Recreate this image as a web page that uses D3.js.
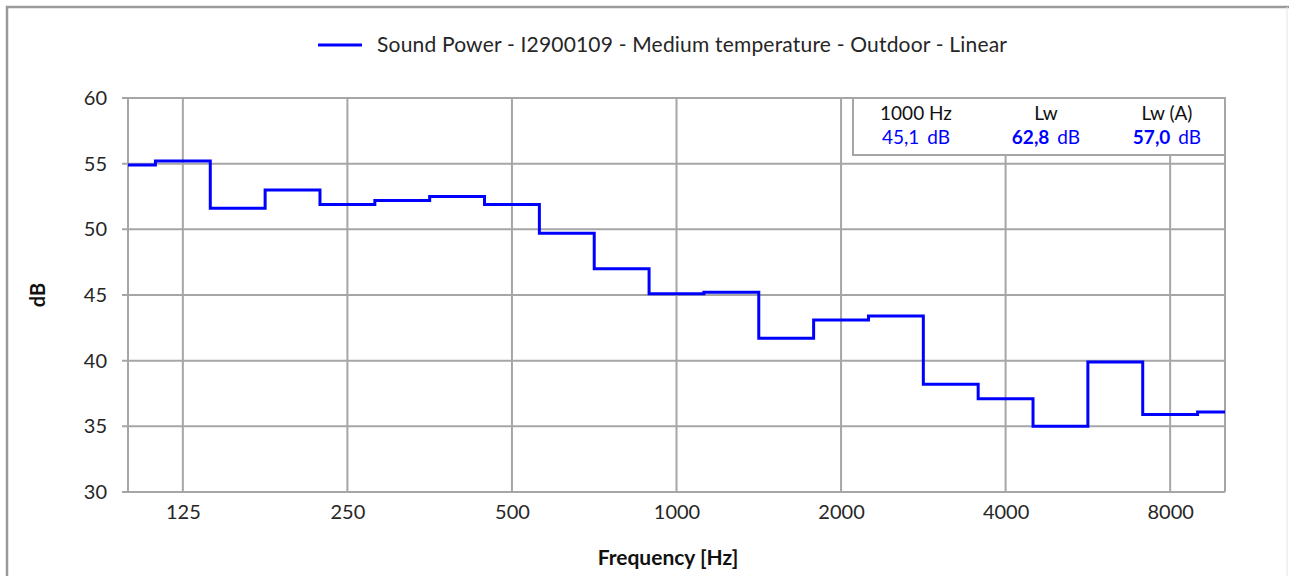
<!DOCTYPE html>
<html lang="en">
  <head>
    <meta charset="utf-8" />
    <title>Sound Power spectrum</title>
    <script src="https://d3js.org/d3.v7.js"></script>
    <style>
      body { margin: 0; background: #fff; }
      text { font-family: Lato, "Open Sans", sans-serif; }
    </style>
  </head>
  <body>
    <div id="graph"></div>
    <script>

    // third octave bands (Hz) and sound power level per band (dB)
    var bands = ["100", "125", "160", "200", "250", "315", "400", "500", "630", "800",
                 "1000", "1250", "1600", "2000", "2500", "3150", "4000", "5000", "6300", "8000", "10000"];
    var levels = [54.9, 55.2, 51.6, 53.0, 51.9, 52.2, 52.5, 51.9, 49.7, 47.0,
                  45.1, 45.2, 41.7, 43.1, 43.4, 38.2, 37.1, 35.0, 39.9, 35.9, 36.1];
    var xTicks = ["125", "250", "500", "1000", "2000", "4000", "8000"];
    var yTicks = [30, 35, 40, 45, 50, 55, 60];
    var seriesName = "Sound Power - I2900109 - Medium temperature - Outdoor - Linear";
    var infoHeads = ["1000 Hz", "Lw", "Lw (A)"];
    var infoValues = ["45,1", "62,8", "57,0"];

    var w = 1289, h = 576;
    var blue = "#0000ff", grid = "#a6a6a6";

    var svg = d3.select("#graph")
      .append("svg")
        .attr("width", w)
        .attr("height", h);

    // outer frame
    svg.append("path")
      .attr("d", "M7,576 V7 H1289")
      .attr("fill", "none")
      .attr("stroke", "#9a9a9a")
      .attr("stroke-width", 2.5);
    svg.append("line")
      .attr("x1", 1287).attr("x2", 1287).attr("y1", 7).attr("y2", 576)
      .attr("stroke", "#e4e4e4").attr("stroke-width", 1);

    // scales
    var x = d3.scalePoint()
      .domain(bands)
      .range([128, 1225]);
    var y = d3.scaleLinear()
      .domain([30, 60])
      .range([492, 98]);
    var half = x.step() / 2;

    // gridlines
    svg.append("g")
      .selectAll("line")
      .data(yTicks)
      .join("line")
        .attr("x1", 122).attr("x2", 1225)
        .attr("y1", d => y(d)).attr("y2", d => y(d))
        .attr("stroke", grid).attr("stroke-width", 2);

    svg.append("g")
      .selectAll("line")
      .data(xTicks.concat(["100", "10000"]))
      .join("line")
        .attr("x1", d => x(d)).attr("x2", d => x(d))
        .attr("y1", y(60)).attr("y2", y(30))
        .attr("stroke", grid).attr("stroke-width", 2);

    // axes (labels only, lines drawn as grid)
    var xAxis = svg.append("g")
      .attr("transform", `translate(0,${y(30)})`)
      .call(d3.axisBottom(x).tickValues(xTicks).tickSize(0).tickPadding(13));
    var yAxis = svg.append("g")
      .attr("transform", "translate(128,0)")
      .call(d3.axisLeft(y).tickValues(yTicks).tickSize(0).tickPadding(21));
    [xAxis, yAxis].forEach(function (a) {
      a.select(".domain").remove();
      a.selectAll("text")
        .attr("font-family", "Lato, 'Open Sans', sans-serif")
        .attr("font-size", 20)
        .attr("fill", "#262626");
    });

    // step line
    var pts = [];
    bands.forEach(function (b, i) {
      var x0 = i === 0 ? x(b) : x(b) - half;
      var x1 = i === bands.length - 1 ? x(b) : x(b) + half;
      pts.push([x0, y(levels[i])]);
      pts.push([x1, y(levels[i])]);
    });
    svg.append("path")
      .attr("d", d3.line()(pts))
      .attr("fill", "none")
      .attr("stroke", blue)
      .attr("stroke-width", 3);

    // info box
    var box = svg.append("g");
    box.append("rect")
      .attr("x", 853).attr("y", 98)
      .attr("width", 372).attr("height", 57)
      .attr("fill", "#fff")
      .attr("stroke", grid).attr("stroke-width", 2);
    var cols = [916, 1046, 1167];
    infoHeads.forEach(function (t, i) {
      box.append("text")
        .attr("x", cols[i]).attr("y", 120)
        .attr("text-anchor", "middle")
        .attr("font-size", 19)
        .attr("fill", "#111")
        .text(t);
      var v = box.append("text")
        .attr("x", cols[i]).attr("y", 144)
        .attr("text-anchor", "middle")
        .attr("font-size", 19)
        .attr("fill", blue);
      v.append("tspan")
        .attr("font-weight", i === 0 ? "normal" : "bold")
        .text(infoValues[i]);
      v.append("tspan")
        .attr("dx", 8)
        .text("dB");
    });

    // legend
    svg.append("line")
      .attr("x1", 318).attr("x2", 362)
      .attr("y1", 45).attr("y2", 45)
      .attr("stroke", blue).attr("stroke-width", 3);
    svg.append("text")
      .attr("x", 377).attr("y", 52)
      .attr("font-size", 21)
      .attr("fill", "#262626")
      .attr("textLength", 630)
      .attr("lengthAdjust", "spacing")
      .text(seriesName);

    // axis titles
    svg.append("text")
      .attr("x", 668).attr("y", 565)
      .attr("text-anchor", "middle")
      .attr("font-size", 21)
      .attr("font-weight", "bold")
      .attr("fill", "#111")
      .text("Frequency [Hz]");
    svg.append("text")
      .attr("transform", "translate(45,295) rotate(-90)")
      .attr("text-anchor", "middle")
      .attr("font-size", 20)
      .attr("font-weight", "bold")
      .attr("fill", "#111")
      .text("dB");

    </script>
  </body>
</html>
